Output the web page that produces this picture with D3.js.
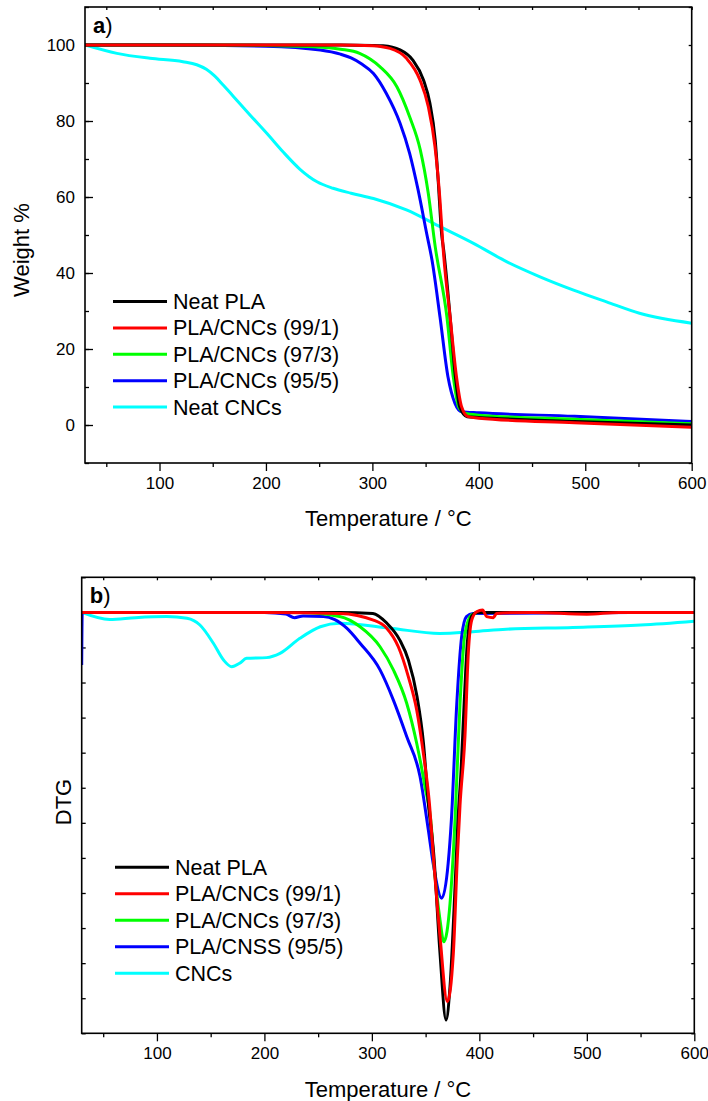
<!DOCTYPE html>
<html lang="en">
<head>
<meta charset="UTF-8">
<title>TGA / DTG</title>
<script src="https://d3js.org/d3.v7.min.js"></script>
<style>
  body { margin: 0; background: #fff; }
  svg { display: block; font-family: "Liberation Sans", Arial, sans-serif; }
  .tick text { font-size: 17px; fill: #000; }
  .tick line { stroke: #000; stroke-width: 1.3; }
  .frame { fill: none; stroke: #000; stroke-width: 1.6; }
  .curve { fill: none; stroke-width: 3; stroke-linejoin: round; }
  .legend text { font-size: 21.5px; fill: #000; }
  .title { font-size: 22px; fill: #000; }
</style>
</head>
<body>
<svg id="chart" width="708" height="1101"></svg>
<script>
// ---- data ----
const colors = ["#000000", "#ff0000", "#00ff00", "#0000ff", "#00ffff"];
const tgaNames = ["Neat PLA", "PLA/CNCs (99/1)", "PLA/CNCs (97/3)", "PLA/CNCs (95/5)", "Neat CNCs"];
const dtgNames = ["Neat PLA", "PLA/CNCs (99/1)", "PLA/CNCs (97/3)", "PLA/CNSS (95/5)", "CNCs"];

const xTicks = [100, 200, 300, 400, 500, 600];
const wTicks = [0, 20, 40, 60, 80, 100];

// (a) weight % vs temperature
const tgaPlaT = [30, 100, 200, 270, 300, 310, 326, 338, 348, 354, 359, 362, 365, 367, 373, 378, 382, 389, 400, 490, 600];
const tgaPlaW = [100, 100, 100, 100, 99.9, 99.8, 98.7, 96, 90.8, 84.7, 75, 63.6, 50.4, 46, 28.5, 12.7, 4.8, 2.2, 2.0, 0.9, 0.0];
const tga991T = [30, 100, 200, 270, 300, 316.5, 332, 344.7, 352.5, 358.8, 363.5, 366.6, 373, 379, 383.8, 390, 400, 490, 600];
const tga991W = [100, 100, 100, 100, 99.8, 99.1, 96.5, 90.8, 83.8, 73.3, 59.2, 46, 28.5, 12.7, 4.8, 2.2, 1.8, 0.6, -0.6];
const tga973T = [30, 100, 200, 240, 270, 288, 307, 323, 335, 345, 352.5, 359, 370, 376, 381, 387, 400, 490, 600];
const tga973W = [100, 100, 99.9, 99.6, 98.9, 97.8, 94.3, 89, 81.1, 72.4, 61, 47, 28.5, 12.7, 4.8, 3.1, 2.6, 1.5, 0.3];
const tga955T = [30, 100, 200, 251, 270, 280, 290, 301, 313, 326, 335, 343, 351, 356, 363.5, 371, 377.6, 384, 400, 490, 600];
const tga955W = [100, 100, 99.7, 98.7, 97.6, 96.6, 95.0, 92.5, 87.3, 79.4, 71.5, 61.8, 50.4, 43.4, 28.5, 12.7, 5.7, 3.5, 3.2, 2.3, 0.9];
const tgaCncT = [30, 60, 91, 122, 135, 144, 152, 160, 169, 185, 201, 216, 232, 248, 263, 280, 301, 332, 363.5, 395, 426, 457.5, 489, 520, 551, 600];
const tgaCncW = [100, 97.8, 96.5, 95.6, 94.8, 93.6, 91.8, 89.4, 86.6, 81.6, 76.7, 71.9, 67.3, 64, 62.3, 61, 59.6, 56.6, 52.2, 47.8, 43, 39, 35.5, 32.4, 29.4, 26.8];

// (b) DTG, arbitrary units
const dtgPlaT = [30, 100, 200, 270, 301, 314, 326, 334, 342, 348, 352.5, 357.5, 363.4, 369, 372.7, 377.4, 380, 383, 386, 389, 393, 398, 450, 600];
const dtgPlaD = [-1, -1, -1, -1, -1.03, -1.31, -1.79, -2.36, -3.4, -4.73, -6.44, -7.87, -10.72, -12.62, -11.67, -8.82, -7.0, -5.5, -3.5, -1.8, -1.1, -1.0, -1.0, -1.0];
const dtg991T = [30, 100, 200, 270, 301.4, 313.8, 324.6, 333.9, 341.7, 347.9, 353.5, 357, 363.4, 370.2, 375.8, 379.5, 382, 386.6, 389.7, 392.9, 397.5, 403, 406.8, 413, 416, 450, 500, 530, 600];
const dtg991D = [-1, -1, -1, -1.03, -1.22, -1.45, -1.98, -2.83, -3.78, -5.02, -6.44, -7.87, -10.24, -12.1, -10.72, -8.0, -6.5, -4.54, -2.17, -1.22, -0.98, -0.93, -1.12, -1.15, -1.03, -1.0, -1.05, -1.0, -1.0];
const dtg973T = [30, 100, 200, 233, 270, 289, 307.6, 320, 332.4, 341.7, 349.4, 355.6, 357, 363.4, 367, 372.7, 377.4, 382, 386.6, 392.9, 400, 600];
const dtg973D = [-1, -1, -1, -1.0, -1.12, -1.41, -1.98, -2.64, -3.59, -4.73, -5.97, -7.2, -7.87, -9.77, -10.39, -9.3, -6.9, -3.6, -1.6, -1.07, -1.0, -1.0];
const dtg955T = [30, 30.5, 100, 200, 220, 228, 236, 255, 265, 276.6, 289, 307.6, 320, 332.4, 344.8, 352.5, 357, 365, 371, 374, 379, 383.5, 388, 394, 600];
const dtg955D = [-2.5, -1.0, -1.0, -1.0, -1.05, -1.15, -1.1, -1.12, -1.2, -1.45, -1.88, -2.64, -3.5, -4.54, -5.68, -7.2, -8.15, -9.15, -8.15, -6.9, -3.6, -1.7, -1.12, -1.03, -1.0];
const dtgCncT = [30, 56, 80, 109, 128, 140, 152.5, 162, 169.6, 177, 183.5, 202, 214.5, 233, 252, 270, 317, 363, 394, 425, 487, 550, 600];
const dtgCncD = [-1.0, -1.2, -1.15, -1.12, -1.17, -1.36, -1.88, -2.36, -2.55, -2.45, -2.31, -2.29, -2.17, -1.74, -1.41, -1.31, -1.45, -1.6, -1.55, -1.48, -1.43, -1.36, -1.25];

function zip(xs, ys) { return xs.map((x, i) => ({ x: x, y: ys[i] })); }

const tgaSeries = [
    zip(tgaPlaT, tgaPlaW), zip(tga991T, tga991W), zip(tga973T, tga973W),
    zip(tga955T, tga955W), zip(tgaCncT, tgaCncW)
];
const dtgSeries = [
    zip(dtgPlaT, dtgPlaD), zip(dtg991T, dtg991D), zip(dtg973T, dtg973D),
    zip(dtg955T, dtg955D), zip(dtgCncT, dtgCncD)
];

const svg = d3.select("#chart");

function drawPanel(p) {
    const x = d3.scaleLinear().domain([30, 600]).range([p.left, p.right]);
    const y = d3.scaleLinear().domain(p.yDomain).range([p.bottom, p.top]);
    const g = svg.append("g");

    // clip for the curves
    g.append("clipPath").attr("id", p.id + "clip")
        .append("rect")
        .attr("x", p.left).attr("y", p.top)
        .attr("width", p.right - p.left).attr("height", p.bottom - p.top);

    // bottom axis: major + minor ticks, outward
    g.append("g")
        .attr("transform", `translate(0,${p.bottom})`)
        .call(d3.axisBottom(x).tickValues(xTicks).tickSize(8).tickPadding(6))
        .call(a => a.select(".domain").remove());
    g.append("g")
        .attr("transform", `translate(0,${p.bottom})`)
        .call(d3.axisBottom(x).tickValues(d3.range(50, 600, 100)).tickSize(4).tickFormat(""))
        .call(a => a.select(".domain").remove());
    // top axis, small inward ticks
    g.append("g")
        .attr("transform", `translate(0,${p.top})`)
        .call(d3.axisTop(x).tickValues(d3.range(50, 601, 50)).tickSize(-3).tickFormat(""))
        .call(a => a.select(".domain").remove());

    // left axis
    if (p.yTicks) {
        g.append("g")
            .attr("transform", `translate(${p.left},0)`)
            .call(d3.axisLeft(y).tickValues(p.yTicks).tickSize(-8).tickPadding(10))
            .call(a => a.select(".domain").remove());
    }
    g.append("g")
        .attr("transform", `translate(${p.left},0)`)
        .call(d3.axisLeft(y).tickValues(p.yMinor).tickSize(-4).tickFormat(""))
        .call(a => a.select(".domain").remove());
    // right axis
    g.append("g")
        .attr("transform", `translate(${p.right},0)`)
        .call(d3.axisRight(y).tickValues(p.yMinor).tickSize(-3).tickFormat(""))
        .call(a => a.select(".domain").remove());

    // curves
    const line = d3.line()
        .x(d => x(d.x))
        .y(d => y(d.y))
        .curve(d3.curveMonotoneX);
    const order = [4, 3, 2, 0, 1];
    g.append("g").attr("clip-path", `url(#${p.id}clip)`)
        .selectAll("path")
        .data(order)
        .join("path")
        .attr("class", "curve")
        .attr("stroke", i => colors[i])
        .attr("d", i => line(p.series[i]));

    // frame
    g.append("rect").attr("class", "frame")
        .attr("x", p.left).attr("y", p.top)
        .attr("width", p.right - p.left).attr("height", p.bottom - p.top);

    // panel letter
    const lab = g.append("text").attr("class", "title")
        .attr("x", p.left + 8).attr("y", p.top + 26);
    lab.append("tspan").attr("font-weight", "bold").text(p.letter);
    lab.append("tspan").text(")");

    // legend
    const lg = g.append("g").attr("class", "legend");
    p.names.forEach((name, i) => {
        const cy = p.legY + i * p.legStep;
        lg.append("line")
            .attr("x1", p.legX).attr("x2", p.legX + 54)
            .attr("y1", cy).attr("y2", cy)
            .attr("stroke", colors[i]).attr("stroke-width", 3);
        lg.append("text")
            .attr("x", p.legX + 60).attr("y", cy + 7.5)
            .text(name);
    });

    // axis titles
    g.append("text").attr("class", "title")
        .attr("text-anchor", "middle")
        .attr("x", (p.left + p.right) / 2).attr("y", p.xTitleY)
        .text("Temperature / °C");
    g.append("text").attr("class", "title")
        .attr("text-anchor", "middle")
        .attr("transform", `translate(${p.yTitleX},${p.yTitleMid}) rotate(-90)`)
        .text(p.yTitle);
}

drawPanel({
    id: "a", letter: "a",
    left: 85, right: 691.7, top: 7, bottom: 463,
    yDomain: [-10, 110], yTicks: wTicks, yMinor: d3.range(-10, 111, 10),
    series: tgaSeries, names: tgaNames,
    legX: 113, legY: 301.5, legStep: 26.4,
    xTitleY: 526, yTitleX: 29, yTitleMid: 250, yTitle: "Weight %"
});

drawPanel({
    id: "b", letter: "b",
    left: 81.7, right: 694.3, top: 577.3, bottom: 1033.3,
    yDomain: [-13, 0], yTicks: null, yMinor: d3.range(-13, 1, 1),
    series: dtgSeries, names: dtgNames,
    legX: 115, legY: 867.3, legStep: 26.5,
    xTitleY: 1097, yTitleX: 71, yTitleMid: 802, yTitle: "DTG"
});
</script>
</body>
</html>
